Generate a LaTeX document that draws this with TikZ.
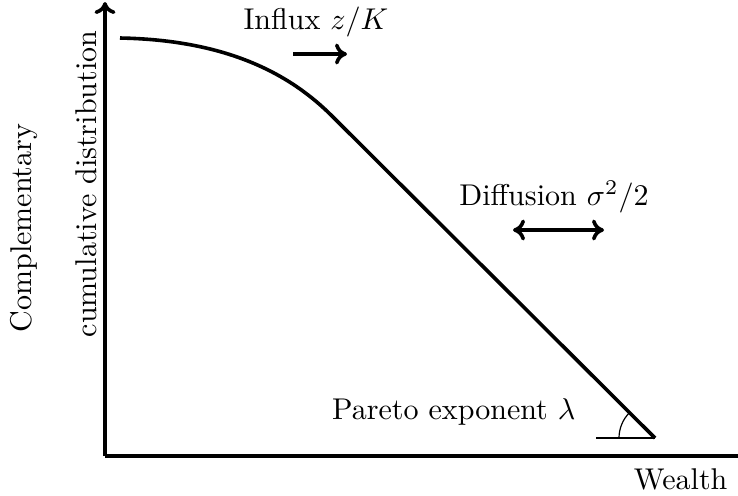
\documentclass[tikz,border=0pt]{standalone}
\usepackage{amsmath,amssymb}
\usepackage{tikz}
\usetikzlibrary{positioning,calc,arrows.meta}

\begin{document}
\begin{tikzpicture}[x=0.01171cm, y=-0.01171cm]
  \tikzset{axis/.style={line width=1.2pt}, curve/.style={line width=1.2pt}, marker/.style={line width=1.2pt, -{To[length=4pt,width=7pt]}}}
  \useasboundingbox (0,0) rectangle (738,495);

  % axes
  \coordinate (origin) at (105,456);
  \coordinate (ytop) at (105,2);
  \coordinate (xend) at (738,456);
  \draw[axis, -{To[length=4pt,width=7pt]}] (origin) -- (ytop);
  \draw[axis] (origin) -- (xend);
  \node[anchor=north east] (wealth) at (738,458) {Wealth};
  \node[rotate=90] (ylabA) at (24,228) {Complementary};
  \node[rotate=90] (ylabB) at (86,184) {cumulative distribution};

  % distribution
  \coordinate (start) at (120,38);
  \coordinate (kink) at (332,116);
  \coordinate (tail) at (655,438);
  \draw[curve] (start) .. controls (230,40) and (292,76) .. (kink) -- (tail);

  % Pareto angle
  \coordinate (foot) at (596,438);
  \draw[thin] (foot) -- (tail);
  \draw[thin] ($(tail)+(-36,0)$) arc[start angle=180, end angle=225, radius=36];
  \node[anchor=east] (pareto) at (586,412) {Pareto exponent $\lambda$};

  % influx
  \node (influx) at (316,22) {Influx $z/K$};
  \coordinate (inA) at (293,54);
  \coordinate (inB) at (347,54);
  \draw[marker] (inA) -- (inB);

  % diffusion
  \node (diffusion) at (554,197) {Diffusion $\sigma^2/2$};
  \coordinate (dfA) at (513,230);
  \coordinate (dfB) at (604,230);
  \draw[marker, {To[length=4pt,width=7pt]}-{To[length=4pt,width=7pt]}] (dfA) -- (dfB);
\end{tikzpicture}
\end{document}
